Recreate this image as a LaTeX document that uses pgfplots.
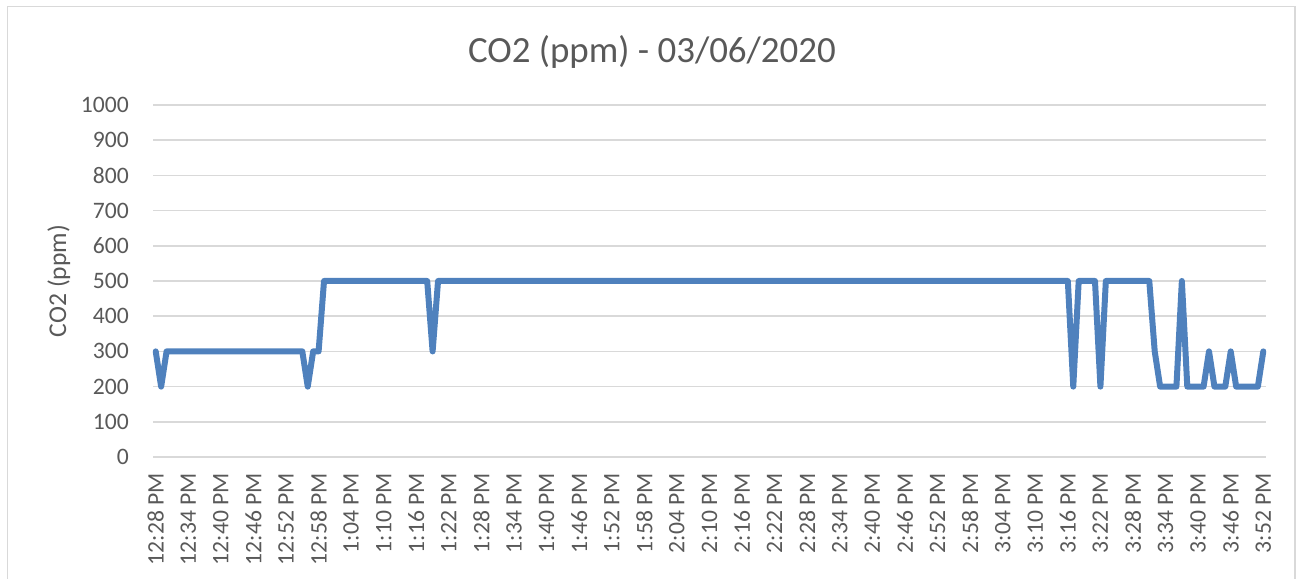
\documentclass[border=0pt]{standalone}
\usepackage{pgfplots}
\pgfplotsset{compat=1.18}
\usepackage{fontspec}
\setmainfont{Carlito}
\definecolor{txt}{HTML}{595959}
\definecolor{gridc}{HTML}{D9D9D9}
\definecolor{linec}{HTML}{4F81BD}
\begin{document}
\begin{tikzpicture}
\path[use as bounding box] (0,0) rectangle (975.75pt,433.5pt);
\draw[gridc, line width=1.2pt] (5.5pt,-3pt) -- (5.5pt,428.5pt) -- (971.25pt,428.5pt) -- (971.25pt,-3pt);
\begin{axis}[
  at={(114.75pt,90.75pt)}, anchor=south west,
  scale only axis, width=834.75pt, height=264pt,
  xmin=-0.5, xmax=204.5, ymin=0, ymax=1000,
  ytick={0,100,...,1000},
  xtick={0,6,...,204},
  xticklabels={12:28 PM,12:34 PM,12:40 PM,12:46 PM,12:52 PM,12:58 PM,1:04 PM,1:10 PM,1:16 PM,1:22 PM,1:28 PM,1:34 PM,1:40 PM,1:46 PM,1:52 PM,1:58 PM,2:04 PM,2:10 PM,2:16 PM,2:22 PM,2:28 PM,2:34 PM,2:40 PM,2:46 PM,2:52 PM,2:58 PM,3:04 PM,3:10 PM,3:16 PM,3:22 PM,3:28 PM,3:34 PM,3:40 PM,3:46 PM,3:52 PM},
  axis line style={draw=none},
  major tick length=0pt,
  xmajorgrids=false,
  ymajorgrids=true,
  major grid style={draw=gridc, line width=1.1pt},
  /pgf/number format/assume math mode=true,
  /pgf/number format/1000 sep={},
  ticklabel style={font=\fontsize{17.7}{20}\selectfont, text=txt},
  yticklabel style={inner sep=0pt, anchor=east, xshift=-18pt},
  xticklabel style={inner sep=0pt, yshift=-12pt, rotate=90, anchor=east},
  ylabel={CO2 (ppm)},
  ylabel style={at={(axis description cs:-0.0845,0.5)}, anchor=center, rotate=0, font=\fontsize{19.2}{22}\selectfont, text=txt},
  title={CO2 (ppm) - 03/06/2020},
  title style={at={(axis description cs:0.4483,1.128)}, anchor=center, font=\fontsize{27.7}{32}\selectfont, text=txt},
  clip=false,
]
\addplot[linec, line width=4.5pt, line join=round, line cap=round, mark=none] coordinates {
(0,300)(1,200)
(2,300)(3,300)(4,300)(5,300)(6,300)(7,300)(8,300)(9,300)(10,300)(11,300)(12,300)(13,300)(14,300)(15,300)(16,300)(17,300)(18,300)(19,300)(20,300)(21,300)(22,300)(23,300)(24,300)(25,300)(26,300)(27,300)
(28,200)(29,300)(30,300)
(31,500)(32,500)(33,500)(34,500)(35,500)(36,500)(37,500)(38,500)(39,500)(40,500)(41,500)(42,500)(43,500)(44,500)(45,500)(46,500)(47,500)(48,500)(49,500)(50,500)
(51,300)
(52,500)(53,500)(54,500)(55,500)(56,500)(57,500)(58,500)(59,500)(60,500)(61,500)(62,500)(63,500)(64,500)(65,500)(66,500)(67,500)(68,500)(69,500)
(70,500)(71,500)(72,500)(73,500)(74,500)(75,500)(76,500)(77,500)(78,500)(79,500)(80,500)(81,500)(82,500)(83,500)(84,500)(85,500)(86,500)(87,500)(88,500)(89,500)
(90,500)(91,500)(92,500)(93,500)(94,500)(95,500)(96,500)(97,500)(98,500)(99,500)(100,500)(101,500)(102,500)(103,500)(104,500)(105,500)(106,500)(107,500)(108,500)(109,500)
(110,500)(111,500)(112,500)(113,500)(114,500)(115,500)(116,500)(117,500)(118,500)(119,500)(120,500)(121,500)(122,500)(123,500)(124,500)(125,500)(126,500)(127,500)(128,500)(129,500)
(130,500)(131,500)(132,500)(133,500)(134,500)(135,500)(136,500)(137,500)(138,500)(139,500)(140,500)(141,500)(142,500)(143,500)(144,500)(145,500)(146,500)(147,500)(148,500)(149,500)
(150,500)(151,500)(152,500)(153,500)(154,500)(155,500)(156,500)(157,500)(158,500)(159,500)(160,500)(161,500)(162,500)(163,500)(164,500)(165,500)(166,500)(167,500)(168,500)
(169,200)
(170,500)(171,500)(172,500)(173,500)
(174,200)
(175,500)(176,500)(177,500)(178,500)(179,500)(180,500)(181,500)(182,500)(183,500)
(184,300)
(185,200)(186,200)(187,200)(188,200)
(189,500)
(190,200)(191,200)(192,200)(193,200)
(194,300)
(195,200)(196,200)(197,200)
(198,300)
(199,200)(200,200)(201,200)(202,200)(203,200)
(204,300)
};
\end{axis}
\end{tikzpicture}
\end{document}
